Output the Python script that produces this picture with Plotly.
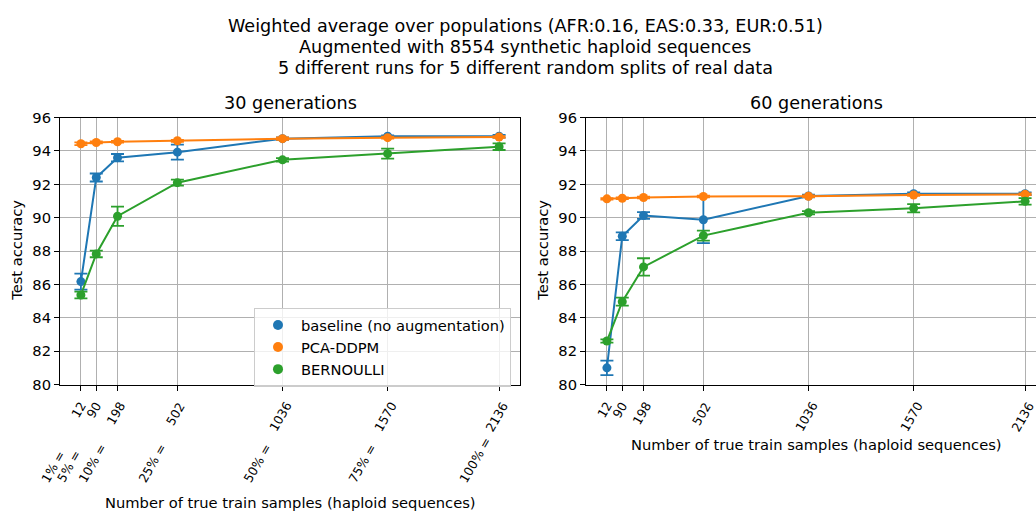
import plotly.graph_objects as go

W, H = 1036, 518

# ---------------- data ----------------
samples = [12, 90, 198, 502, 1036, 1570, 2136]
tick_labels = ["12", "90", "198", "502", "1036", "1570", "2136"]
pct_labels = ["1% =", "5% =", "10% =", "25% =", "50% =", "75% =", "100% ="]

series_names = ["baseline (no augmentation)", "PCA-DDPM", "BERNOULLI"]
colors = ["#1f77b4", "#ff7f0e", "#2ca02c"]

# 30 generations
base30 = [86.17, 92.41, 93.60, 93.93, 94.74, 94.88, 94.88]
base30_err = [0.48, 0.24, 0.22, 0.45, 0.08, 0.06, 0.08]
pca30 = [94.43, 94.51, 94.55, 94.61, 94.74, 94.80, 94.84]
pca30_err = [0.08, 0.06, 0.05, 0.06, 0.08, 0.06, 0.05]
bern30 = [85.37, 87.83, 90.09, 92.10, 93.47, 93.84, 94.26]
bern30_err = [0.20, 0.20, 0.58, 0.18, 0.10, 0.30, 0.20]

# 60 generations
base60 = [81.00, 88.89, 90.13, 89.88, 91.30, 91.44, 91.44]
base60_err = [0.43, 0.23, 0.20, 1.40, 0.08, 0.08, 0.08]
pca60 = [91.13, 91.17, 91.21, 91.27, 91.29, 91.36, 91.40]
pca60_err = [0.05, 0.05, 0.05, 0.05, 0.05, 0.05, 0.05]
bern60 = [82.61, 84.97, 87.05, 88.93, 90.30, 90.57, 90.98]
bern60_err = [0.10, 0.24, 0.52, 0.30, 0.10, 0.25, 0.20]

y_ticks = [80, 82, 84, 86, 88, 90, 92, 94, 96]

suptitle_lines = ["Weighted average over populations (AFR:0.16, EAS:0.33, EUR:0.51)",
                  "Augmented with 8554 synthetic haploid sequences",
                  "5 different runs for 5 different random splits of real data"]
sub_titles = ["30 generations", "60 generations"]
xlabel = "Number of true train samples (haploid sequences)"
ylabel = "Test accuracy"

FONT = "DejaVu Sans"
FS = 14.7      # labels / y ticks / legend
FX = 12.4      # rotated x tick labels
FT = 17.6      # titles

def px_x(p):
    return p / W

def px_y(p):
    return 1 - p / H

fig = go.Figure()

panels = [
    ("x", "y", [base30, pca30, bern30], [base30_err, pca30_err, bern30_err]),
    ("x2", "y2", [base60, pca60, bern60], [base60_err, pca60_err, bern60_err]),
]
for xa, ya, vals, errs in panels:
    for name, col, v, e in zip(series_names, colors, vals, errs):
        fig.add_trace(go.Scatter(
            x=samples, y=v, xaxis=xa, yaxis=ya, mode="lines+markers",
            name=name, showlegend=False,
            line=dict(color=col, width=2),
            marker=dict(color=col, size=9),
            error_y=dict(type="data", array=e, visible=True, color=col,
                         thickness=1.8, width=6.5),
            cliponaxis=False,
        ))

# legend entries (marker only, like matplotlib errorbar handles)
for i, (name, col) in enumerate(zip(series_names, colors)):
    fig.add_trace(go.Scatter(
        x=[None], y=[None], xaxis="x", yaxis="y", mode="markers",
        name=name, legendgroup=str(i), showlegend=True,
        marker=dict(color=col, size=10),
    ))

xrange_left = [-94.2, 2242.2]
xrange_right = [-94.2, -94.2 + (W - 586) / (460 / (2242.2 + 94.2))]

ydom = [px_y(388.3), px_y(112.3)]

axis_common = dict(
    showgrid=True, gridcolor="#b0b0b0", gridwidth=1,
    showline=True, linecolor="black", linewidth=1,
    ticks="outside", ticklen=5, tickwidth=1, tickcolor="black",
    zeroline=False,
    tickfont=dict(family=FONT, size=FS, color="black"),
)

fig.update_layout(
    width=W, height=H,
    margin=dict(l=0, r=0, t=0, b=0),
    paper_bgcolor="white", plot_bgcolor="white",
    font=dict(family=FONT, size=FS, color="black"),
    xaxis=dict(domain=[px_x(60), px_x(520)], range=xrange_left, anchor="y",
               tickvals=samples, showticklabels=False, mirror=True, **axis_common),
    yaxis=dict(domain=ydom, range=[80, 96], anchor="x", tickvals=y_ticks,
               mirror=True, **axis_common),
    xaxis2=dict(domain=[px_x(586), 1.0], range=xrange_right, anchor="y2",
                tickvals=samples, showticklabels=False, mirror=True, **axis_common),
    yaxis2=dict(domain=ydom, range=[80, 96], anchor="x2", tickvals=y_ticks,
                mirror=False, **axis_common),
    legend=dict(x=px_x(254), y=px_y(309), xanchor="left", yanchor="top",
                bgcolor="rgba(255,255,255,0.8)", bordercolor="#cccccc",
                borderwidth=1, font=dict(family=FONT, size=FS),
                traceorder="grouped", tracegroupgap=0, itemwidth=36),
    showlegend=True,
)

ann = []
# suptitle (three lines)
for line, yc in zip(suptitle_lines, (18, 39.5, 61)):
    ann.append(dict(text=line, x=px_x(525), y=px_y(yc), xref="paper", yref="paper",
                    xanchor="center", yanchor="middle", showarrow=False,
                    font=dict(family=FONT, size=FT)))
# subplot titles
ann.append(dict(text=sub_titles[0], x=px_x(290), y=px_y(97), xref="paper", yref="paper",
                xanchor="center", yanchor="middle", showarrow=False,
                font=dict(family=FONT, size=FT)))
ann.append(dict(text=sub_titles[1], x=px_x(816), y=px_y(97), xref="paper", yref="paper",
                xanchor="center", yanchor="middle", showarrow=False,
                font=dict(family=FONT, size=FT)))
# y labels
for xp in (17, 543):
    ann.append(dict(text=ylabel, x=px_x(xp), y=px_y(250), xref="paper", yref="paper",
                    xanchor="center", yanchor="middle", textangle=-90, showarrow=False,
                    font=dict(family=FONT, size=FS)))
# x labels
ann.append(dict(text=xlabel, x=px_x(290), y=px_y(510), xref="paper", yref="paper",
                xanchor="center", yanchor="middle", showarrow=False,
                font=dict(family=FONT, size=FS)))
ann.append(dict(text=xlabel, x=px_x(816), y=px_y(450), xref="paper", yref="paper",
                xanchor="center", yanchor="middle", showarrow=False,
                font=dict(family=FONT, size=FS)))
# tick labels (rotated, centred on ticks like matplotlib)
for xr in ("x", "x2"):
    for s, lab in zip(samples, tick_labels):
        ann.append(dict(text=lab, x=s, xref=xr, xshift=-2, y=px_y(402), yref="paper",
                        xanchor="center", yanchor="top", textangle=-60,
                        showarrow=False, borderpad=0,
                        font=dict(family=FONT, size=FX)))
# percentage labels (left panel)
for s, lab in zip(samples, pct_labels):
    ann.append(dict(text=lab, x=s, xref="x", xshift=-44, y=px_y(493.5), yref="paper",
                    xanchor="left", yanchor="bottom", textangle=-60,
                    showarrow=False, borderpad=0,
                    font=dict(family=FONT, size=FX)))

fig.update_layout(annotations=ann)

fig.write_html("out.html")
